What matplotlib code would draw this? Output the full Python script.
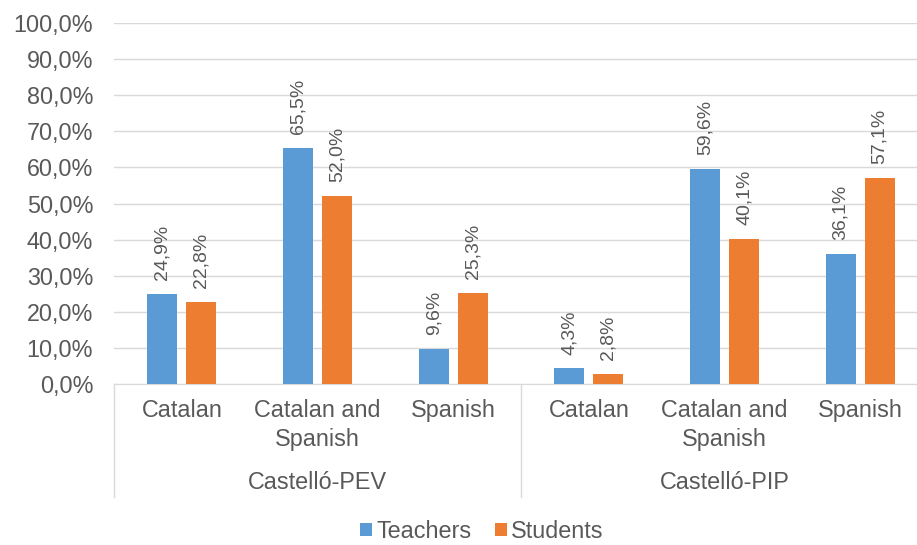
import matplotlib
matplotlib.use("Agg")
import matplotlib.pyplot as plt
import matplotlib.transforms as mtransforms
import numpy as np

plt.rcParams["font.family"] = ["Liberation Sans", "DejaVu Sans"]

# Data
groups = ["Castelló-PEV", "Castelló-PIP"]
categories = ["Catalan", "Catalan and\nSpanish", "Spanish",
              "Catalan", "Catalan and\nSpanish", "Spanish"]
teachers = [24.9, 65.5, 9.6, 4.3, 59.6, 36.1]
students = [22.8, 52.0, 25.3, 2.8, 40.1, 57.1]
yticks = np.arange(0, 101, 10)

BLUE = "#5B9BD5"
ORANGE = "#ED7D31"
TEXT = "#595959"
GRID = "#d9d9d9"
FS = 16.8

W, H = 917, 545
fig = plt.figure(figsize=(W / 100, H / 100), dpi=100)
ax = fig.add_axes([114 / W, 1 - 384 / H, (928 - 114) / W, (384 - 23) / H])

x = np.arange(len(categories))
width = 0.22
off = 0.144
b1 = ax.bar(x - off, teachers, width, color=BLUE, label="Teachers", zorder=3)
b2 = ax.bar(x + off, students, width, color=ORANGE, label="Students", zorder=3)

def fmt(v):
    return f"{v:.1f}%".replace(".", ",")

for bars, vals in [(b1, teachers), (b2, students)]:
    for bar, v in zip(bars, vals):
        ax.annotate(fmt(v), xy=(bar.get_x() + bar.get_width() / 2, v),
                    xytext=(0, 10), textcoords="offset points",
                    ha="center", va="bottom", rotation=90,
                    fontsize=14, color=TEXT)

ax.set_xlim(-0.5, len(categories) - 0.5)
ax.set_ylim(0, 100)
ax.set_yticks(yticks)
ax.set_yticklabels([fmt(v) for v in yticks], fontsize=FS, color=TEXT)
ax.tick_params(axis="y", length=0, pad=15)
ax.set_xticks([])
ax.yaxis.grid(True, color=GRID, linewidth=1)
ax.set_axisbelow(True)
for s in ["left", "right", "top"]:
    ax.spines[s].set_visible(False)
ax.spines["bottom"].set_color(GRID)

# category labels
for i, c in enumerate(categories):
    ax.annotate(c, xy=(i, 0), xycoords=("data", "axes fraction"),
                xytext=(0, -11), textcoords="offset points",
                ha="center", va="top", fontsize=FS, color=TEXT,
                linespacing=1.3)

# group labels and separators
trans = mtransforms.blended_transform_factory(ax.transData, ax.transAxes)
for g, name in enumerate(groups):
    ax.annotate(name, xy=(g * 3 + 1, 0), xycoords=("data", "axes fraction"),
                xytext=(0, -71), textcoords="offset points",
                ha="center", va="center", fontsize=FS, color=TEXT)
for xs in [-0.5, 2.5]:
    ax.plot([xs, xs], [0, -113 / 361], transform=trans, color=GRID,
            linewidth=1, clip_on=False)

fig.legend(handles=[b1, b2], labels=["Teachers", "Students"],
           loc="center", bbox_to_anchor=(482 / W, 1 - 531 / H), ncol=2,
           frameon=False, fontsize=FS, handlelength=0.5, handleheight=0.5,
           handletextpad=0.2, columnspacing=1.0, labelcolor=TEXT)

fig.savefig("out.png", dpi=100)
